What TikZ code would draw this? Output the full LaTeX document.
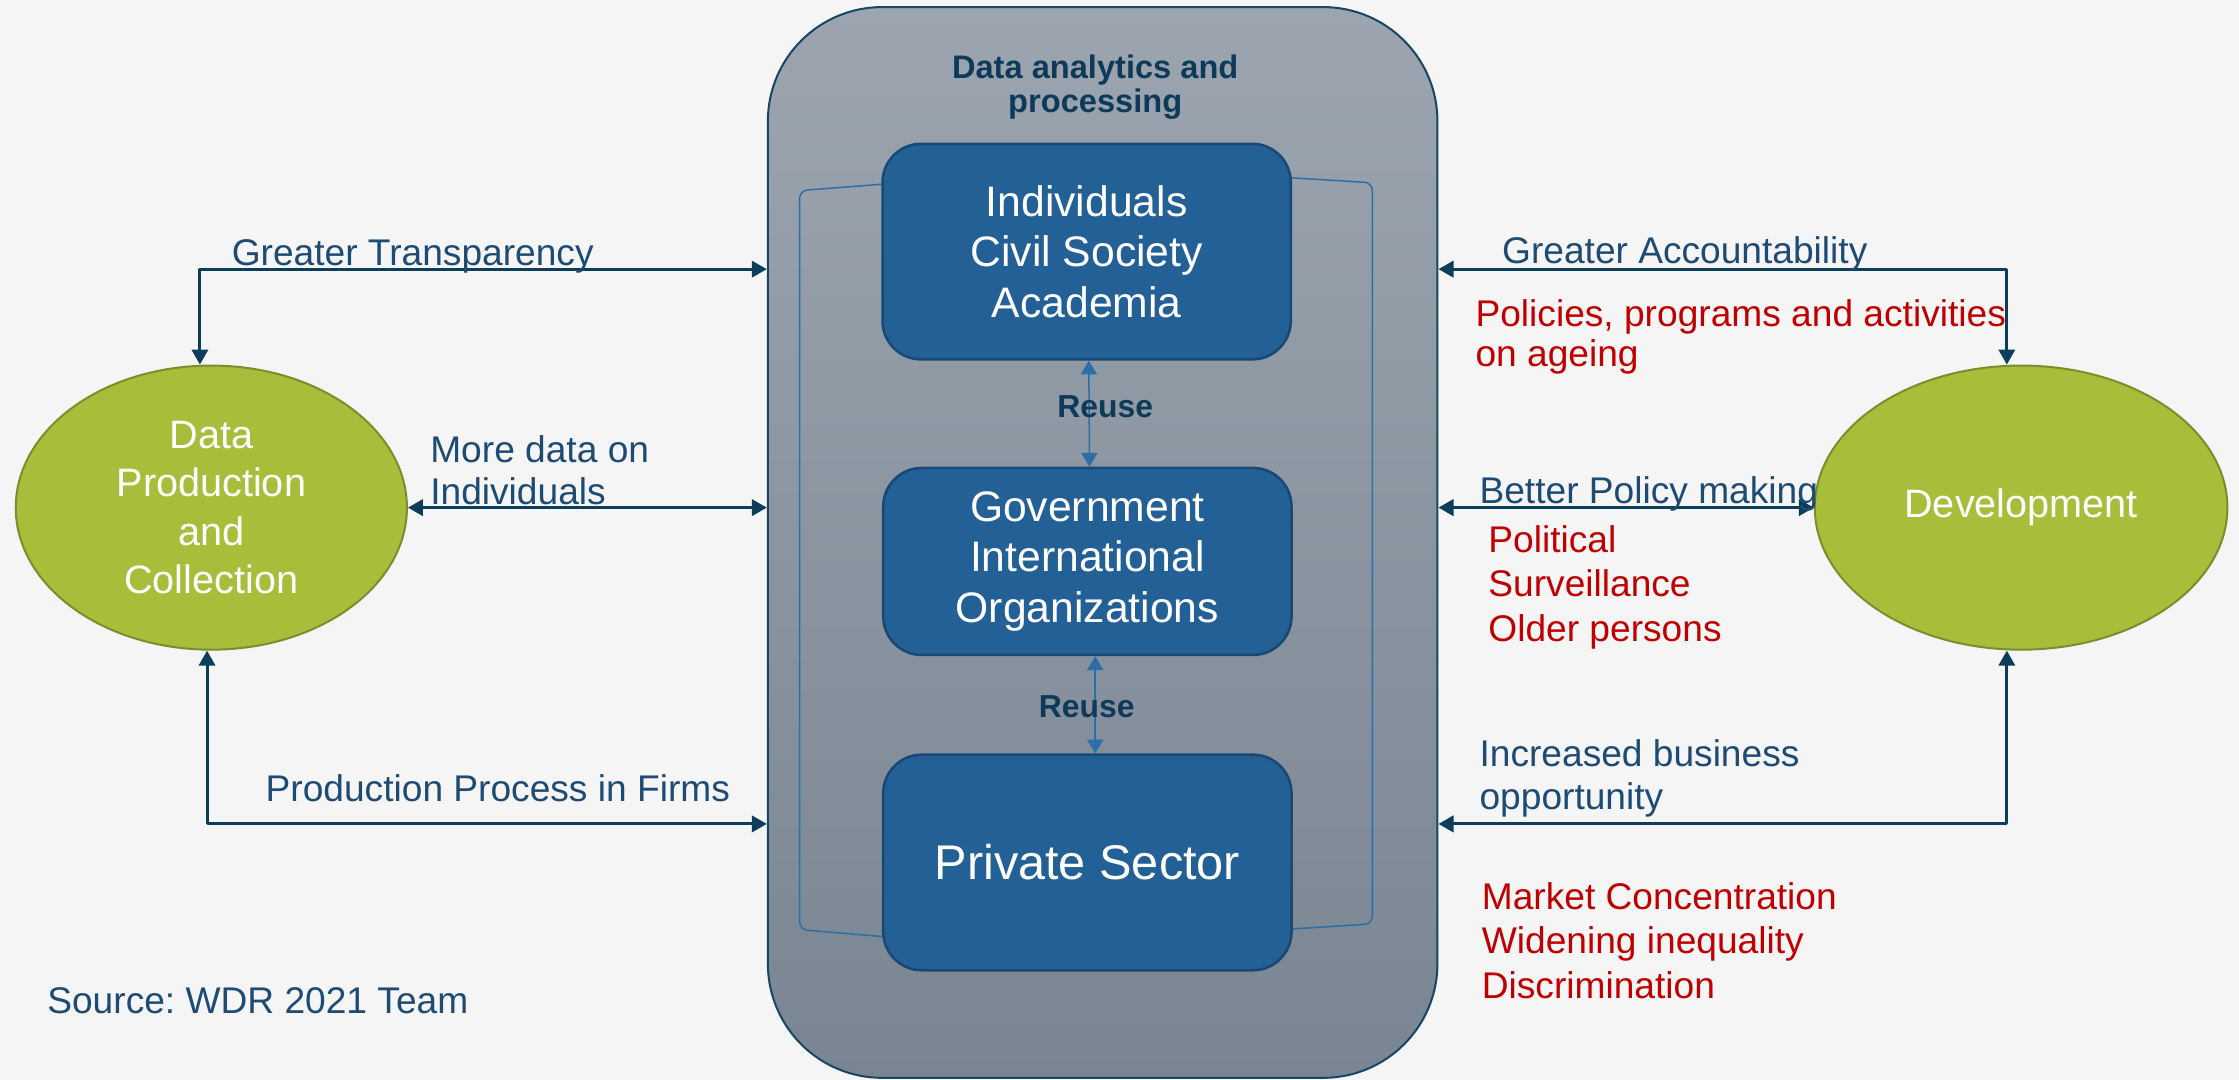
\documentclass[tikz,border=0pt]{standalone}
\usepackage{fontspec}
\setmainfont{Liberation Sans}
\frenchspacing
\usetikzlibrary{arrows.meta,shapes.geometric}
\definecolor{paper}{RGB}{245,245,245}
\definecolor{navy}{RGB}{12,61,90}
\definecolor{lbl}{RGB}{30,75,115}
\definecolor{ttlblue}{RGB}{14,58,90}
\definecolor{boxblue}{RGB}{34,96,150}
\definecolor{boxline}{RGB}{24,72,115}
\definecolor{thinblue}{RGB}{46,110,168}
\definecolor{olive}{RGB}{168,189,58}
\definecolor{oliveline}{RGB}{122,142,44}
\definecolor{redtxt}{RGB}{192,0,0}
\definecolor{procTop}{RGB}{156,165,175}
\definecolor{procBot}{RGB}{121,133,146}
\definecolor{procline}{RGB}{23,70,100}
\begin{document}
\begin{tikzpicture}[x=0.02cm,y=-0.02cm,line join=round,
    proc/.style={draw=procline,line width=0.8pt,top color=procTop,bottom color=procBot,
      rounded corners=1.6cm,minimum width=9.38cm,minimum height=15cm},
    sector/.style={draw=boxline,line width=1pt,fill=boxblue,rounded corners=0.54cm,
      minimum width=5.72cm,text=white,align=center,inner sep=0pt,
      font=\fontsize{17}{20.2}\selectfont},
    actor/.style={ellipse,draw=oliveline,line width=0.8pt,fill=olive,text=white,
      align=center,inner sep=0pt,minimum height=3.98cm,font=\fontsize{15.8}{19.2}\selectfont},
    link/.style={navy,line width=1.2pt,{Triangle[length=6pt,width=6.5pt]}-{Triangle[length=6pt,width=6.5pt]}},
    reuse/.style={thinblue,line width=0.6pt,{Triangle[length=5.5pt,width=6.5pt]}-{Triangle[length=5.5pt,width=6.5pt]}},
    bracket/.style={thinblue,line width=0.6pt,rounded corners=3pt},
    lab/.style={anchor=base west,inner sep=0pt,align=left,text=lbl,font=\fontsize{14.8}{16.8}\selectfont},
    risk/.style={lab,text=redtxt,font=\fontsize{14.8}{17.6}\selectfont},
    boldlab/.style={inner sep=0pt,text=ttlblue,font=\bfseries\fontsize{12.7}{13.3}\selectfont}]
  \def\rowT{188.5} \def\rowB{577}
  \useasboundingbox (0,0) rectangle (1568,756);
  \fill[paper] (0,0) rectangle (1568,756);

  % processing block
  \node[proc] (proc) at (772.2,379.9) {};
  \node[boldlab,align=center,font=\bfseries\fontsize{13}{13.3}\selectfont] (ttl) at (767,61)
    {Data analytics and\\processing};
  \draw[bracket] (618,129) -- (560,133.5) -- (560,651) -- (619,656);
  \draw[bracket] (904,124.5) -- (961,128) -- (961,647) -- (904,650.6);
  \node[sector,minimum height=3.02cm] (s1) at (761,176.2) {Individuals\\Civil Society\\Academia};
  \node[sector,minimum height=2.62cm] (s2) at (761.5,393.2) {Government\\International\\Organizations};
  \node[sector,minimum height=3.02cm,font=\fontsize{19.4}{22}\selectfont] (s3) at (761.5,604) {Private Sector};
  \draw[reuse] ([xshift=0.03cm]s1.south) -- ([xshift=0.03cm]s2.north);
  \draw[reuse] ([xshift=0.11cm]s2.south) -- ([xshift=0.11cm]s3.north);
  \node[boldlab] (reuse1) at (774,284.6) {Reuse};
  \node[boldlab] (reuse2) at (761,494.8) {Reuse};

  % both ends
  \node[actor,minimum width=5.48cm] (dpc) at (148,355.5) {Data\\Production\\and\\Collection};
  \node[actor,minimum width=5.78cm] (dev) at (1415.4,355.5) {Development};

  % left links (labels placed by the baseline of their last line)
  \draw[link] ([xshift=-0.16cm]dpc.north) |- (proc.west |- 0,\rowT);
  \draw[link] (dpc.east) -- (proc.west |- dpc.east);
  \draw[link] ([xshift=-0.06cm]dpc.south) |- (proc.west |- 0,\rowB);
  \node[lab] (transp) at (162,185.6) {Greater Transparency};
  \node[lab] (moredata) at (301,353.5) {More data on\\Individuals};
  \node[lab] (firms) at (185.7,561) {Production Process in Firms};
  \node[lab] (source) at (32.8,709.5) {Source: WDR 2021 Team};

  % right links
  \draw[link] (proc.east |- 0,\rowT) -| ([xshift=-0.2cm]dev.north);
  \draw[link] (proc.east |- dev.west) -- (dev.west);
  \draw[link] (proc.east |- 0,\rowB) -| ([xshift=-0.2cm]dev.south);
  \node[lab] (account) at (1051.6,184.4) {Greater Accountability};
  \node[risk,font=\fontsize{14.8}{16}\selectfont] (ageing) at (1033,257)
    {Policies, programs and activities\\on ageing};
  \node[lab] (policy) at (1035.8,352.4) {Better Policy making};
  \node[risk] (risks1) at (1042,449) {Political\\Surveillance\\Older persons};
  \node[lab,font=\fontsize{14.8}{17}\selectfont] (business) at (1035.8,567)
    {Increased business\\opportunity};
  \node[risk] (risks2) at (1037.4,699) {Market Concentration\\Widening inequality\\Discrimination};
\end{tikzpicture}
\end{document}
